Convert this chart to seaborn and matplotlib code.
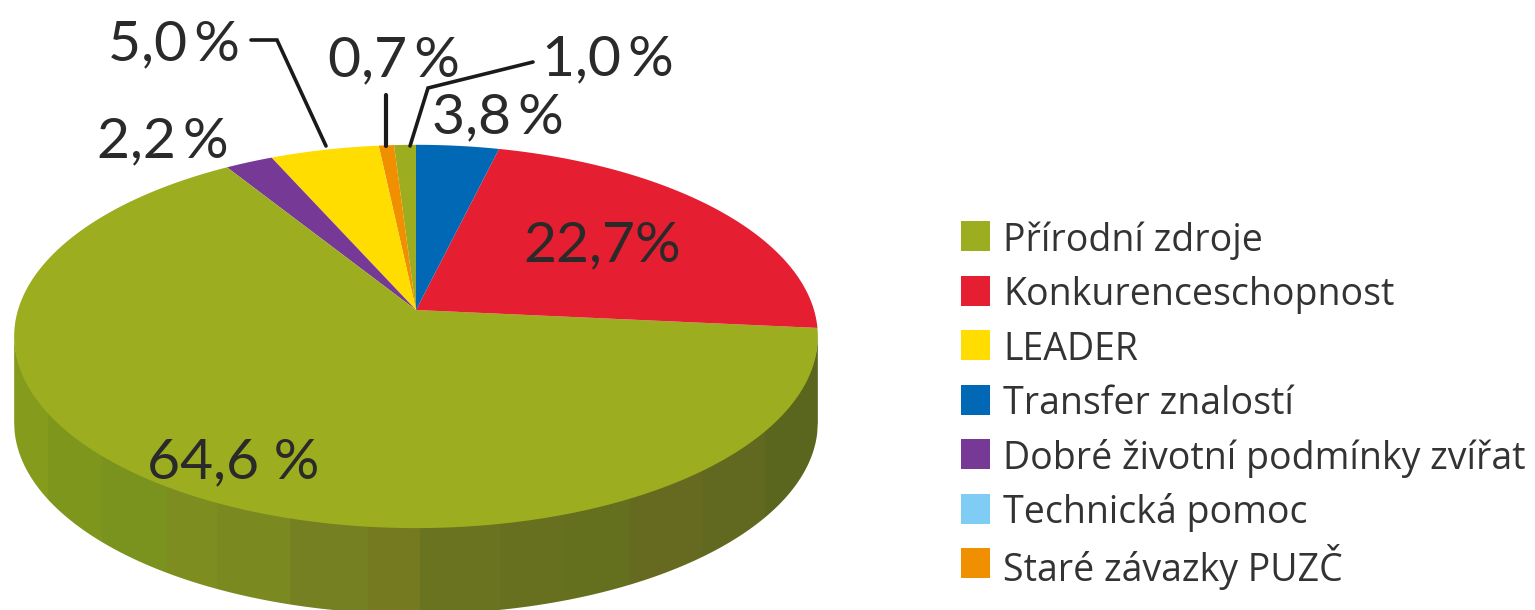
# library
import numpy as np
import seaborn as sns
import matplotlib.pyplot as plt
from matplotlib.patches import Rectangle
from matplotlib.path import Path
from matplotlib.transforms import Transform

# data, counter clockwise from 12 o'clock
slice_values = [1.0, 0.7, 5.0, 2.2, 64.6, 22.7, 3.8]
slice_colors = ["#9cad20", "#f09000", "#ffdd00", "#763a96", "#9cad20", "#e61e32", "#0068b4"]
slice_labels = ["1,0\u2009%", "0,7\u2009%", "5,0\u2009%", "2,2\u2009%", "64,6 %", "22,7%", "3,8\u2009%"]

legend_names = ["Přírodní zdroje", "Konkurenceschopnost", "LEADER", "Transfer znalostí",
                "Dobré životní podmínky zvířat", "Technická pomoc", "Staré závazky PUZČ"]
legend_colors = ["#9cad20", "#e61e32", "#ffdd00", "#0068b4", "#763a96", "#7fcdf5", "#f09000"]

# shaded bands on the side of the disc
band_edges = [14, 48, 102, 167, 217, 290, 368, 420, 500, 565, 630, 702, 765, 818]
band_colors = ["#859b1b", "#7f961c", "#7a921e", "#7e8d20", "#7a8a20", "#748022", "#75791f",
               "#6a731f", "#67701f", "#65701f", "#656a20", "#60691f", "#5a651e"]

# perspective of the disc, in pixels
cx, cy = 416, 310
ax_w, ax_h = 398, 188
tilt = 0.138
depth = 86


class DiscPerspective(Transform):
    input_dims = 2
    output_dims = 2
    is_separable = False
    has_inverse = False

    def transform_non_affine(self, values):
        values = np.asarray(values, dtype=float)
        w = 1 + tilt * values[:, 1]
        return np.column_stack([cx + ax_w * values[:, 0] / w, cy - ax_h * values[:, 1] / w])

    def transform_path_non_affine(self, path):
        # walk along the curves, control points alone do not stay on the arc
        pts = []
        for bez, code in path.iter_bezier():
            if code == Path.MOVETO:
                pts.append(bez.control_points)
            else:
                pts.append(bez(np.linspace(0, 1, 40)))
        return Path(self.transform(np.vstack(pts)))


sns.set_theme(style="white")
plt.rcParams['font.family'] = ['Open Sans', 'DejaVu Sans']

fig = plt.figure(figsize=(15.35, 6.10), dpi=100)
ax = fig.add_axes([0, 0, 1, 1])

wedges, _ = ax.pie(slice_values, colors=slice_colors, startangle=90, counterclock=True,
                   wedgeprops={'linewidth': 0, 'zorder': 3})
ax.set_aspect('auto')
ax.set_xlim(0, 1535)
ax.set_ylim(610, 0)
ax.axis('off')

disc = DiscPerspective()
for w in wedges:
    w.set_transform(disc + ax.transData)

# side of the disc: lower half of the rim, pushed down
theta = np.linspace(np.pi + np.arcsin(tilt), 2 * np.pi - np.arcsin(tilt), 800)
rim = disc.transform(np.column_stack([np.cos(theta), np.sin(theta)]))
for i, c in enumerate(band_colors):
    x = np.linspace(max(band_edges[i], rim[0, 0]), min(band_edges[i + 1], rim[-1, 0]), 80)
    top = np.interp(x, rim[:, 0], rim[:, 1])
    ax.fill_between(x, top - 2, top + depth, facecolor=c, edgecolor='none', linewidth=0, zorder=1)

# labels, placed on their baseline
label_pos = [(542, 75), (328, 76), (108, 60), (97, 157), (147, 478), (523, 261), (432, 133)]
for text, (x, y) in zip(slice_labels, label_pos):
    ax.text(x, y, text, fontsize=41, color="#2a2a2a", ha='left', va='baseline',
            family=['Lato', 'DejaVu Sans'], zorder=5)

# leader lines
ax.plot([251, 277, 326], [40, 40, 146], color="#1a1a1a", lw=2.6, zorder=4, solid_joinstyle='miter')
ax.plot([386, 386], [95, 146], color="#1a1a1a", lw=3, zorder=4)
ax.plot([533, 428, 410], [62, 88, 146], color="#1a1a1a", lw=2.6, zorder=4, solid_joinstyle='miter')

# legend, rows at an even pitch
row_y = [236, 290.5, 345, 399.5, 454, 508.5, 563]
for name, c, y in zip(legend_names, legend_colors, row_y):
    ax.add_patch(Rectangle((961, y - 15), 29, 30, facecolor=c, edgecolor='none'))
    ax.text(1003, y, name, fontsize=27, color="#333333", ha='left', va='center_baseline')

plt.savefig("out.png", dpi=100)
